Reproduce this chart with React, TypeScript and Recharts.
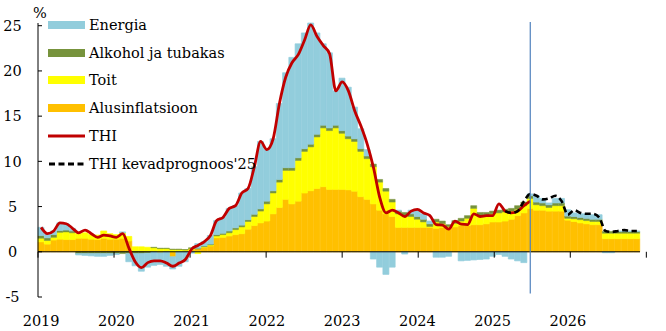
import React from 'react';
import { ComposedChart, Bar, Line, XAxis, YAxis, ReferenceLine, Legend } from 'recharts';

// monthly categories 2019-01 ... 2026-12
const years = [2019, 2020, 2021, 2022, 2023, 2024, 2025, 2026];
const months = years.flatMap((y) => Array.from({ length: 12 }, (_, i) => `${y}-${String(i + 1).padStart(2, '0')}`));
const yearTicks = months.filter((m) => m.endsWith('-01'));
const yearBounds = [0, 12, 24, 36, 48, 60, 72, 84, 96];
const yTicks = [-5, 0, 5, 10, 15, 20, 25];

// contributions, percentage points
const core = [
  1.1, 0.85, 1.3, 1.4, 1.35, 1.35, 1.5, 1.5, 1.4, 1.35, 1.5, 1.4,
  1.4, 1.5, 1.2, 0.1, 0.1, 0.05, 0.05, -0.1, 0.05, -0.55, 0.0, 0.05,
  0.25, 0.3, 0.5, 0.65, 1.55, 1.6, 1.75, 1.9, 2.0, 2.5, 2.9, 3.2,
  3.4, 4.2, 4.9, 5.8, 5.3, 5.6, 6.5, 6.75, 7.0, 7.2, 6.9, 6.9,
  6.9, 6.85, 6.7, 6.1, 5.8, 5.3, 4.6, 4.2, 3.9, 2.7, 2.7, 2.7,
  2.7, 2.7, 2.7, 2.6, 2.7, 2.7, 2.75, 2.9, 2.9, 3.0, 3.0, 3.1,
  3.3, 3.3, 3.4, 3.6, 4.0, 4.3, 4.8, 4.6, 4.6, 4.5, 4.5, 4.5,
  3.5, 3.35, 3.2, 3.1, 3.0, 3.0, 1.45, 1.45, 1.45, 1.45, 1.45, 1.45,
];
const food = [
  0.4, 0.4, 0.3, 0.75, 0.85, 0.75, 0.5, 0.6, 0.5, 0.5, 0.8, 0.6,
  0.5, 0.6, 0.5, 0.45, 0.45, 0.45, 0.4, 0.35, 0.3, 0.25, 0.25, 0.15,
  0.1, -0.2, 0.05, 0.1, 0.2, 0.3, 0.35, 0.55, 0.75, 0.85, 1.0, 1.3,
  1.9, 2.3, 2.8, 3.2, 3.7, 4.5, 4.6, 4.85, 5.7, 6.5, 6.5, 6.8,
  6.2, 5.65, 5.5, 5.0, 4.5, 4.1, 3.1, 2.5, 1.6, 1.5, 1.35, 1.2,
  0.9, 0.6, 0.1, 0.7, 0.4, 0.1, 0.4, 0.5, 0.8, 1.8, 1.05, 0.95,
  0.9, 1.0, 1.0, 0.9, 0.7, 0.8, 1.1, 0.6, 0.5, 0.4, 0.6, 0.6,
  0.2, 0.3, 0.35, 0.35, 0.35, 0.35, 0.6, 0.6, 0.6, 0.6, 0.6, 0.6,
];
const alcohol = [
  0.3, 0.3, 0.3, 0.2, 0.2, 0.2, -0.2, -0.2, -0.2, -0.2, -0.2, -0.2,
  -0.2, -0.2, -0.2, -0.2, -0.2, -0.15, 0.05, 0.05, 0.05, 0.05, 0.05, 0.05,
  0.1, 0.1, 0.1, 0.1, 0.15, 0.15, 0.2, 0.2, 0.2, 0.2, 0.25, 0.25,
  0.3, 0.25, 0.3, 0.3, 0.3, 0.3, 0.3, 0.3, 0.3, 0.3, 0.3, 0.3,
  0.3, 0.3, 0.3, 0.3, 0.3, 0.3, 0.3, 0.3, 0.3, 0.3, 0.3, 0.3,
  0.3, 0.3, 0.3, 0.3, 0.3, 0.2, 0.3, 0.3, 0.3, 0.3, 0.3, 0.3,
  0.3, 0.3, 0.3, 0.3, 0.4, 0.4, 0.3, 0.3, 0.3, 0.3, 0.3, 0.3,
  0.25, 0.25, 0.25, 0.25, 0.25, 0.25, 0.2, 0.2, 0.2, 0.2, 0.2, 0.2,
];
const energy = [
  0.9, 0.45, 0.4, 0.85, 0.7, 0.3, -0.15, -0.2, -0.25, -0.3, -0.3, -0.2,
  -0.1, 0.1, -0.9, -1.35, -1.95, -1.55, -1.5, -1.3, -1.6, -1.35, -1.6, -1.1,
  -0.15, 0.5, 0.45, 0.95, 1.55, 1.75, 2.5, 2.45, 3.55, 3.45, 5.25, 7.45,
  5.7, 5.75, 8.4, 10.5, 12.2, 12.6, 12.8, 13.4, 11.2, 9.0, 8.3, 3.8,
  5.8, 5.4, 3.5, 2.2, 0.7, -0.8, -1.7, -2.5, -1.7, 0.1, -0.25, 0.4,
  0.7, 0.6, 0.3, -0.6, -0.6, -0.5, 0.0, -1.0, -0.95, -0.9, -0.85, -0.8,
  -0.5, -0.3, -0.5, -0.8, -1.0, -1.2, 0.2, 0.7, 0.5, 0.2, 0.5, 0.5,
  0.7, 0.4, 0.4, 0.5, 0.5, 0.5, -0.1, -0.1, 0.05, 0.05, 0.05, 0.05,
];
// headline HICP, y/y %, actual to 2025-07
const thi = [
  2.7, 2.0, 2.3, 3.2, 3.1, 2.6, 2.1, 2.4, 2.0, 1.6, 1.85, 1.75,
  1.6, 2.0, 0.4, -1.1, -1.75, -1.2, -1.0, -1.0, -1.25, -1.6, -1.25, -0.85,
  0.3, 0.7, 1.1, 1.8, 3.45, 3.8, 4.8, 5.1, 6.5, 7.0, 9.4, 12.2,
  11.3, 12.5, 16.4, 19.3, 20.9, 21.8, 23.4, 25.1, 23.8, 22.8, 21.9, 17.8,
  18.8, 17.8, 15.6, 13.9, 11.9, 9.3, 6.0, 4.3, 4.6, 4.3, 3.9, 4.5,
  4.7, 4.3, 4.0, 3.0, 2.95, 2.5, 3.4, 3.05, 3.0, 4.2, 3.9, 4.0,
  4.0, 5.3, 4.5, 4.3, 4.5, 5.1, 5.6,
];
// spring forecast, from 2025-03
const forecastStart = 74;
const forecast = [
  4.5, 4.3, 4.5, 5.6, 6.4, 6.2, 5.8, 5.9, 6.2, 5.6,
  4.1, 4.6, 4.3, 4.2, 4.2, 3.8, 2.3, 2.2, 2.3, 2.4, 2.3, 2.3,
];

const data = months.map((m, i) => ({
  month: m,
  core: core[i],
  food: food[i],
  alcohol: alcohol[i],
  energy: energy[i],
  thi: i < thi.length ? thi[i] : null,
  forecast: i >= forecastStart ? forecast[i - forecastStart] : null,
}));

const FONT = 'DejaVu Serif';
const C_ENERGY = '#92CDDC';
const C_ALC = '#77933C';
const C_FOOD = '#FFFF00';
const C_CORE = '#FFC000';
const C_THI = '#C00000';

const legendItems = [
  { name: 'Energia', color: C_ENERGY, kind: 'bar' },
  { name: 'Alkohol ja tubakas', color: C_ALC, kind: 'bar' },
  { name: 'Toit', color: C_FOOD, kind: 'bar' },
  { name: 'Alusinflatsioon', color: C_CORE, kind: 'bar' },
  { name: 'THI', color: C_THI, kind: 'line' },
  { name: "THI kevadprognoos'25", color: '#000', kind: 'dash' },
];

const LegendBox = () => (
  <div style={{ fontFamily: FONT, fontSize: 14.5, color: '#000' }}>
    {legendItems.map((it) => (
      <div key={it.name} style={{ display: 'flex', alignItems: 'center', height: 27.8 }}>
        <svg width={37} height={10} style={{ marginRight: 4 }}>
          {it.kind === 'bar' && <rect x={0} y={1} width={37} height={8} fill={it.color} />}
          {it.kind === 'line' && <line x1={0} x2={37} y1={5} y2={5} stroke={it.color} strokeWidth={3} />}
          {it.kind === 'dash' && (
            <line x1={1} x2={37} y1={5} y2={5} stroke={it.color} strokeWidth={3} strokeDasharray="6 3.5" />
          )}
        </svg>
        <span style={{ whiteSpace: 'nowrap' }}>{it.name}</span>
      </div>
    ))}
  </div>
);

const YearTick = (props: any) => {
  const { x, y, payload } = props;
  return (
    <text x={x} y={y + 29} textAnchor="middle" fontSize={14.5} fontFamily={FONT} fill="#000">
      {String(payload.value).slice(0, 4)}
    </text>
  );
};

const ValueTick = (props: any) => {
  const { x, y, payload } = props;
  return (
    <g>
      <line x1={x} x2={x + 4} y1={y} y2={y} stroke="#000" />
      <text x={x - 25.5} y={y} dy="0.36em" textAnchor="middle" fontSize={14.5} fontFamily={FONT} fill="#000">
        {payload.value}
      </text>
    </g>
  );
};

const PercentLabel = (props: any) => {
  const vb = props.viewBox || { x: 0, y: 23, width: 38 };
  return (
    <text x={vb.x + vb.width + 2} y={vb.y - 5} textAnchor="middle" fontSize={14.5} fontFamily={FONT} fill="#000">
      %
    </text>
  );
};

const App = () => {
  return (
    <div style={{ width: 666, height: 331 }}>
      <style>{'body{margin:0}'}</style>
      <ComposedChart
        width={666}
        height={331}
        data={data}
        stackOffset="sign"
        barCategoryGap={0}
        margin={{ top: 23, right: 26, bottom: 0, left: 0 }}
      >
        <XAxis
          dataKey="month"
          ticks={yearTicks}
          interval={0}
          tick={<YearTick />}
          tickSize={0}
          tickMargin={0}
          axisLine={false}
          tickLine={false}
          height={34}
        />
        <XAxis xAxisId="num" type="number" domain={[0, 96]} allowDataOverflow hide />
        <YAxis
          domain={[-5, 25]}
          ticks={yTicks}
          interval={0}
          width={38}
          tickSize={0}
          tickMargin={0}
          tickLine={false}
          axisLine={{ stroke: '#000' }}
          tick={<ValueTick />}
          label={{ content: <PercentLabel /> }}
        />
        <Legend
          layout="vertical"
          align="center"
          verticalAlign="middle"
          content={() => <LegendBox />}
          wrapperStyle={{ position: 'absolute', left: 48, top: 11, width: 'auto', height: 'auto' }}
        />
        <Bar dataKey="core" stackId="a" fill={C_CORE} stroke={C_CORE} strokeWidth={0.7} isAnimationActive={false} />
        <Bar dataKey="food" stackId="a" fill={C_FOOD} stroke={C_FOOD} strokeWidth={0.7} isAnimationActive={false} />
        <Bar dataKey="alcohol" stackId="a" fill={C_ALC} stroke={C_ALC} strokeWidth={0.5} isAnimationActive={false} />
        <Bar dataKey="energy" stackId="a" fill={C_ENERGY} stroke={C_ENERGY} strokeWidth={0.7} isAnimationActive={false} />
        <ReferenceLine y={0} stroke="#000" strokeWidth={1} />
        {yearBounds.map((b) => (
          <ReferenceLine
            key={b}
            xAxisId="num"
            segment={[{ x: b, y: 0 }, { x: b, y: -0.65 }]}
            stroke="#000"
            strokeWidth={1}
            ifOverflow="visible"
          />
        ))}
        <Line
          dataKey="thi"
          type="monotone"
          stroke={C_THI}
          strokeWidth={2.8}
          dot={false}
          isAnimationActive={false}
        />
        <Line
          dataKey="forecast"
          type="monotone"
          stroke="#000"
          strokeWidth={2.6}
          strokeDasharray="6 3.5"
          dot={false}
          isAnimationActive={false}
        />
        <ReferenceLine
          segment={[{ x: '2025-07', y: -4.6 }, { x: '2025-07', y: 25.4 }]}
          stroke="#4F81BD"
          strokeWidth={1.2}
          ifOverflow="visible"
        />
      </ComposedChart>
    </div>
  );
};

export default App;
